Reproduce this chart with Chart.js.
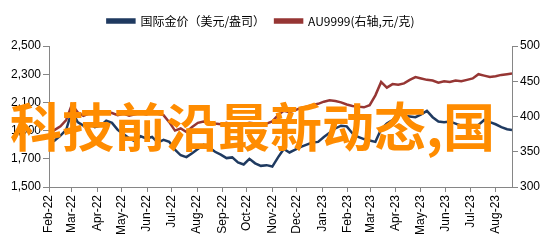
<!DOCTYPE html>
<html>
<head>
<meta charset="utf-8">
<script src="https://cdn.jsdelivr.net/npm/chart.js@4/dist/chart.umd.min.js"></script>
<style>
  html, body { margin: 0; padding: 0; background: #fff; }
  #wrap { position: relative; width: 550px; height: 249px; }
  #stamp {
    position: absolute; left: 10px; top: 99px;
    font-family: "Noto Sans CJK SC", sans-serif; font-weight: bold;
    font-size: 52px; line-height: 52px; color: #ff8c00;
    white-space: nowrap; pointer-events: none;
  }
</style>
</head>
<body>
<div id="wrap">
  <canvas id="chart" width="550" height="249"></canvas>
  <div id="stamp">科技前沿最新动态,国</div>
</div>
<script>
// weekly points, day offset from 1 Feb 2022
const days = Array.from({length: 82}, (_, i) => Math.min(i * 7, 566))

const goldUsd = [1805,1830,1865,1905,2040,1960,1935,1950,1925,1935,
  1970,1955,1905,1875,1845,1825,1860,1845,1855,1815,
  1835,1820,1765,1725,1712,1740,1770,1800,1780,1750,
  1730,1705,1710,1675,1660,1700,1668,1650,1655,1645,
  1710,1770,1745,1765,1785,1800,1815,1820,1855,1885,
  1915,1935,1930,1880,1855,1840,1830,1820,1910,1950,
  1975,2020,2005,2000,1995,2015,2040,1995,1965,1960,
  1965,1950,1935,1915,1925,1940,1975,1960,1945,1925,
  1910,1905]

const au9999 = [376,381,386,395,417,406,401,404,406,404,
  407,405,402,404,401,403,405,403,406,404,
  402,392,380,383,378,385,391,393,392,390,
  389,391,388,390,389,391,390,388,390,393,
  402,408,406,409,412,414,416,418,421,423,
  422,420,417,415,414,413,416,430,449,441,
  446,445,447,452,456,454,452,451,448,450,
  449,451,450,452,454,460,458,456,457,459,
  460,461]

const monthDays = [0,28,59,89,120,150,181,212,242,273,303,334,365,393,424,454,485,515,546]
const monthLabels = ["Feb-22","Mar-22","Apr-22","May-22","Jun-22","Jul-22","Aug-22","Sep-22","Oct-22",
  "Nov-22","Dec-22","Jan-23","Feb-23","Mar-23","Apr-23","May-23","Jun-23","Jul-23","Aug-23"]

const seriesNames = ["国际金价（美元/盎司）", "AU9999(右轴,元/克)"]
const NAVY = "#1f3a60"
const RED = "#963634"
const AXIS = "#868686"
const tickFont = {family: "Liberation Sans, Arial, sans-serif", size: 12}

// legend sits a bit left of centre and leaves a gap above the plot
const legendTweak = {
  id: "legendTweak",
  beforeLayout(chart){
    const lg = chart.legend
    if(lg && !lg._tweaked){
      const fit = lg.fit
      lg.fit = function(){ fit.call(this); this.height += 9 }
      lg._tweaked = true
    }
  },
  afterLayout(chart){
    chart.legend.left -= 14
    chart.legend.right -= 14
  }
}

new Chart(document.getElementById("chart"), {
  type: "line",
  data: {
    datasets: [
      {label: seriesNames[0], data: days.map((d, i) => ({x: d, y: goldUsd[i]})), yAxisID: "y",
        borderColor: NAVY, backgroundColor: NAVY, borderWidth: 2.5, pointRadius: 0, tension: 0},
      {label: seriesNames[1], data: days.map((d, i) => ({x: d, y: au9999[i]})), yAxisID: "y1",
        borderColor: RED, backgroundColor: RED, borderWidth: 2.5, pointRadius: 0, tension: 0}
    ]
  },
  plugins: [legendTweak],
  options: {
    responsive: false,
    animation: false,
    layout: {padding: {top: 5, right: 0, left: 0, bottom: 0}},
    plugins: {
      tooltip: {enabled: false},
      legend: {
        position: "top",
        labels: {boxWidth: 27, boxHeight: 3, padding: 10, color: "#000",
          font: {family: "Noto Sans CJK SC, sans-serif", size: 12}}
      }
    },
    scales: {
      x: {
        type: "linear", min: 0, max: 566,
        afterBuildTicks: s => { s.ticks = monthDays.map(v => ({value: v})) },
        afterFit: s => { s.height = 62 },
        ticks: {autoSkip: false, minRotation: 90, maxRotation: 90, padding: 3, color: "#000", font: tickFont,
          callback: v => monthLabels[monthDays.indexOf(v)]},
        grid: {drawOnChartArea: false, drawTicks: true, tickLength: 5, color: AXIS},
        border: {color: AXIS}
      },
      y: {
        position: "left", min: 1500, max: 2500,
        afterFit: s => { s.width = 49 },
        ticks: {stepSize: 200, padding: 2, color: "#000", font: tickFont},
        grid: {drawOnChartArea: false, drawTicks: true, tickLength: 6, color: AXIS},
        border: {color: AXIS}
      },
      y1: {
        position: "right", min: 300, max: 500,
        afterFit: s => { s.width = 38 },
        ticks: {stepSize: 50, padding: 2, color: "#000", font: tickFont},
        grid: {drawOnChartArea: false, drawTicks: true, tickLength: 6, color: AXIS},
        border: {color: AXIS}
      }
    }
  }
})
</script>
</body>
</html>
